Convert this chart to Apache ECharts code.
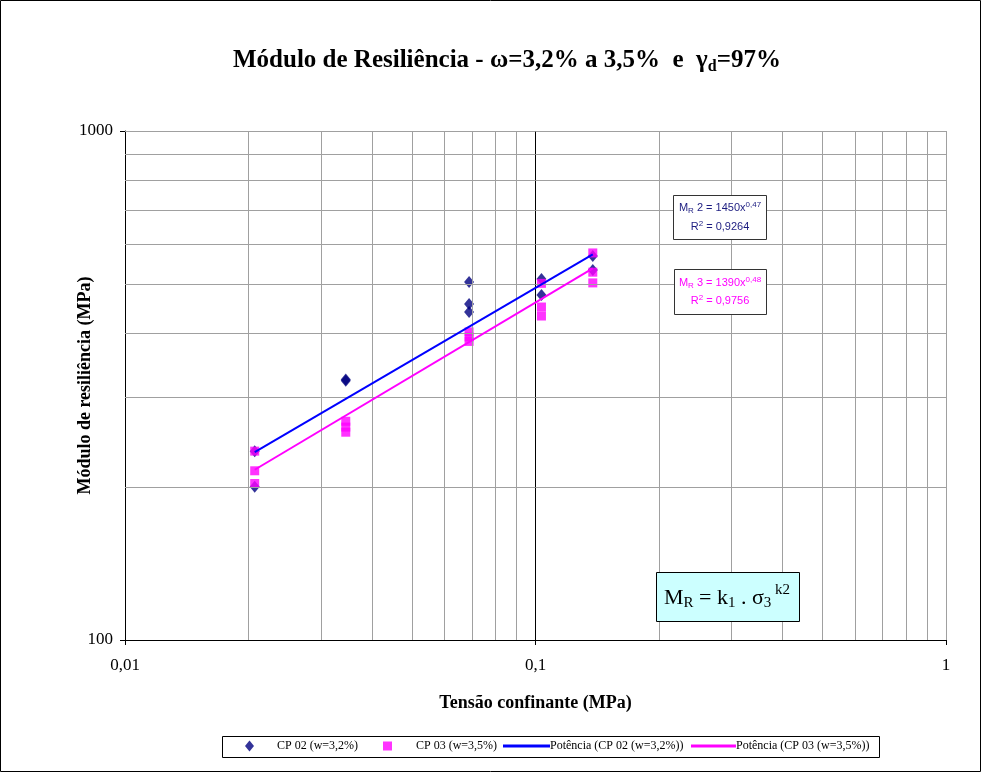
<!DOCTYPE html>
<html><head><meta charset="utf-8">
<script src="https://cdn.jsdelivr.net/npm/echarts/dist/echarts.min.js"></script>
<style>html,body{margin:0;padding:0;background:#fff}#c{width:982px;height:773px}</style>
</head><body><div id="c"></div>
<script>
// ---- data ----
const cp02X = [0.0207, 0.0207, 0.0345, 0.0345, 0.0689, 0.0689, 0.0689, 0.1034, 0.1034, 0.1379, 0.1379];
const cp02Y = [235, 200, 323, 325, 505, 457, 441, 512, 476, 568, 533];
const cp03X = [0.0207, 0.0207, 0.0207, 0.0345, 0.0345, 0.0345, 0.0689, 0.0689, 0.0689, 0.1034, 0.1034, 0.1034, 0.1379, 0.1379, 0.1379];
const cp03Y = [235, 215, 203, 269, 262, 256, 403, 394, 386, 502, 451, 433, 576, 528, 503];
// trend line end points (power fits are straight on log-log)
const trend02X = [0.0207, 0.1379];
const trend02Y = [234, 572];
const trend03X = [0.0207, 0.1379];
const trend03Y = [216, 537];
// grid / tick values
const xMinorGrid = [0.02, 0.03, 0.04, 0.05, 0.06, 0.07, 0.08, 0.09, 0.2, 0.3, 0.4, 0.5, 0.6, 0.7, 0.8, 0.9, 1];
const xMajorGrid = [0.1];
const yMinorGrid = [200, 300, 400, 500, 600, 700, 800, 900, 1000];
const xTickLabels = {0.01: '0,01', 0.1: '0,1', 1: '1'};
const yTickLabels = {100: '100', 1000: '1000'};
const seriesNames = ['CP 02 (w=3,2%)', 'CP 03 (w=3,5%)', 'Potência (CP 02 (w=3,2%))', 'Potência (CP 03 (w=3,5%))'];

const zip = (a, b) => a.map((v, i) => [v, b[i]]);
const serif = 'Liberation Serif';
const sans = 'Liberation Sans';

const chart = echarts.init(document.getElementById('c'), null, {renderer: 'canvas'});
const gridStyle = {color: '#a0a0a0', width: 1, type: 'solid'};
const legendText = {fontFamily: serif, fontSize: 12, color: '#000'};
const mkLegend = (name, icon, left, w, h, padLeft) => ({
  data: [{name: name, icon: icon}], left: left, top: 740, itemWidth: w, itemHeight: h,
  textStyle: Object.assign({}, legendText, {padding: [0, 0, 0, padLeft]}), padding: 0,
  selectedMode: false
});

const option = {
  backgroundColor: '#fff',
  animation: false,
  title: {
    text: '{t|Módulo de Resiliência - ω=3,2% a 3,5%  e  γ}{s|d}{t|=97%}',
    left: 228, top: 42,
    textStyle: {
      rich: {
        t: {fontFamily: serif, fontWeight: 'bold', fontSize: 25, color: '#000'},
        s: {fontFamily: serif, fontWeight: 'bold', fontSize: 16, color: '#000', padding: [12, 0, 0, 0]}
      }
    }
  },
  grid: {left: 125, right: 36, top: 131, bottom: 133, containLabel: false},
  xAxis: {
    type: 'log', logBase: 10, min: 0.01, max: 1, interval: 1,
    name: 'Tensão confinante (MPa)', nameLocation: 'middle', nameGap: 54, nameMoveOverlap: false,
    nameTextStyle: {fontFamily: serif, fontWeight: 'bold', fontSize: 18, color: '#000'},
    axisLine: {lineStyle: {color: '#000', width: 1}},
    axisTick: {show: true, length: 5, lineStyle: {color: '#000'}},
    axisLabel: {fontFamily: serif, fontSize: 17, color: '#000', margin: 17,
      formatter: v => xTickLabels[+v.toPrecision(6)] || ''},
    splitLine: {show: false}
  },
  yAxis: {
    type: 'log', logBase: 10, min: 100, max: 1000, interval: 1,
    name: 'Módulo de resiliência (MPa)', nameLocation: 'middle', nameGap: 31, nameMoveOverlap: false,
    nameTextStyle: {fontFamily: serif, fontWeight: 'bold', fontSize: 18, color: '#000'},
    axisLine: {lineStyle: {color: '#000', width: 1}},
    axisTick: {show: true, length: 5, lineStyle: {color: '#000'}},
    axisLabel: {fontFamily: serif, fontSize: 17, color: '#000', margin: 12,
      formatter: v => yTickLabels[Math.round(v)] || ''},
    splitLine: {show: false}
  },
  legend: [
    mkLegend(seriesNames[0], 'diamond', 245, 9, 11, 18),
    mkLegend(seriesNames[1], 'rect', 383, 9, 9, 19),
    mkLegend(seriesNames[2], 'rect', 503, 47, 3, -5),
    mkLegend(seriesNames[3], 'rect', 691, 45, 3, -5)
  ],
  series: [
    {
      name: 'grid', type: 'line', data: [], silent: true, z: 1,
      markLine: {
        silent: true, symbol: 'none', animation: false, label: {show: false},
        data: [
          ...xMinorGrid.map(v => ({xAxis: v, lineStyle: gridStyle})),
          ...xMajorGrid.map(v => ({xAxis: v, lineStyle: {color: '#000', width: 1, type: 'solid'}})),
          ...yMinorGrid.map(v => ({yAxis: v, lineStyle: gridStyle}))
        ]
      }
    },
    {
      name: seriesNames[0], type: 'scatter', data: zip(cp02X, cp02Y),
      symbol: 'diamond', symbolSize: [10, 12], itemStyle: {color: '#000080'}, z: 3
    },
    {
      name: seriesNames[1], type: 'scatter', data: zip(cp03X, cp03Y),
      symbol: 'rect', symbolSize: 9, itemStyle: {color: '#ff00ff'}, z: 4
    },
    {
      name: seriesNames[2], type: 'line', data: zip(trend02X, trend02Y), symbol: 'none',
      lineStyle: {color: '#0000ff', width: 2}, itemStyle: {color: '#0000ff'}, z: 5
    },
    {
      name: seriesNames[3], type: 'line', data: zip(trend03X, trend03Y), symbol: 'none',
      lineStyle: {color: '#ff00ff', width: 2}, itemStyle: {color: '#ff00ff'}, z: 5
    }
  ],
  graphic: [
    {type: 'rect', shape: {x: 0.5, y: 0.5, width: 980, height: 771}, style: {fill: 'none', stroke: '#000', lineWidth: 1}, z: -10, silent: true},
    {type: 'rect', shape: {x: 222.5, y: 736.5, width: 657, height: 21}, style: {fill: 'none', stroke: '#000', lineWidth: 1}, silent: true},
    // fit box CP02
    {type: 'rect', shape: {x: 673.5, y: 195.5, width: 93, height: 44}, style: {fill: '#fff', stroke: '#333', lineWidth: 1}, z: 10},
    {type: 'text', x: 720, y: 208, z: 11, style: {
      text: '{a|M}{s|R}{a| 2 = 1450x}{p|0,47}', align: 'center', verticalAlign: 'middle',
      rich: {a: {fontFamily: sans, fontSize: 11, fill: '#1c1c80'}, s: {fontFamily: sans, fontSize: 8, fill: '#1c1c80', padding: [5, 0, 0, 0]}, p: {fontFamily: sans, fontSize: 8, fill: '#1c1c80', padding: [0, 0, 6, 0]}}}},
    {type: 'text', x: 720, y: 227, z: 11, style: {
      text: '{a|R}{p|2}{a| = 0,9264}', align: 'center', verticalAlign: 'middle',
      rich: {a: {fontFamily: sans, fontSize: 11, fill: '#1c1c80'}, p: {fontFamily: sans, fontSize: 8, fill: '#1c1c80', padding: [0, 0, 6, 0]}}}},
    // fit box CP03
    {type: 'rect', shape: {x: 674.5, y: 269.5, width: 92, height: 45}, style: {fill: '#fff', stroke: '#333', lineWidth: 1}, z: 10},
    {type: 'text', x: 720, y: 283, z: 11, style: {
      text: '{a|M}{s|R}{a| 3 = 1390x}{p|0,48}', align: 'center', verticalAlign: 'middle',
      rich: {a: {fontFamily: sans, fontSize: 11, fill: '#ff00ff'}, s: {fontFamily: sans, fontSize: 8, fill: '#ff00ff', padding: [5, 0, 0, 0]}, p: {fontFamily: sans, fontSize: 8, fill: '#ff00ff', padding: [0, 0, 6, 0]}}}},
    {type: 'text', x: 720, y: 301, z: 11, style: {
      text: '{a|R}{p|2}{a| = 0,9756}', align: 'center', verticalAlign: 'middle',
      rich: {a: {fontFamily: sans, fontSize: 11, fill: '#ff00ff'}, p: {fontFamily: sans, fontSize: 8, fill: '#ff00ff', padding: [0, 0, 6, 0]}}}},
    // formula box
    {type: 'rect', shape: {x: 656.5, y: 572.5, width: 143, height: 49}, style: {fill: '#ccffff', stroke: '#000', lineWidth: 1}, z: 10},
    {type: 'text', x: 727, y: 598, z: 11, style: {
      text: '{a|M}{s|R}{a| = k}{s|1}{a| . σ}{s|3}{p| k2}', align: 'center', verticalAlign: 'middle',
      rich: {a: {fontFamily: serif, fontSize: 22, fill: '#000'}, s: {fontFamily: serif, fontSize: 15, fill: '#000', padding: [10, 0, 0, 0]}, p: {fontFamily: serif, fontSize: 15, fill: '#000', padding: [0, 0, 16, 0]}}}}
  ]
};
chart.setOption(option);
</script></body></html>
